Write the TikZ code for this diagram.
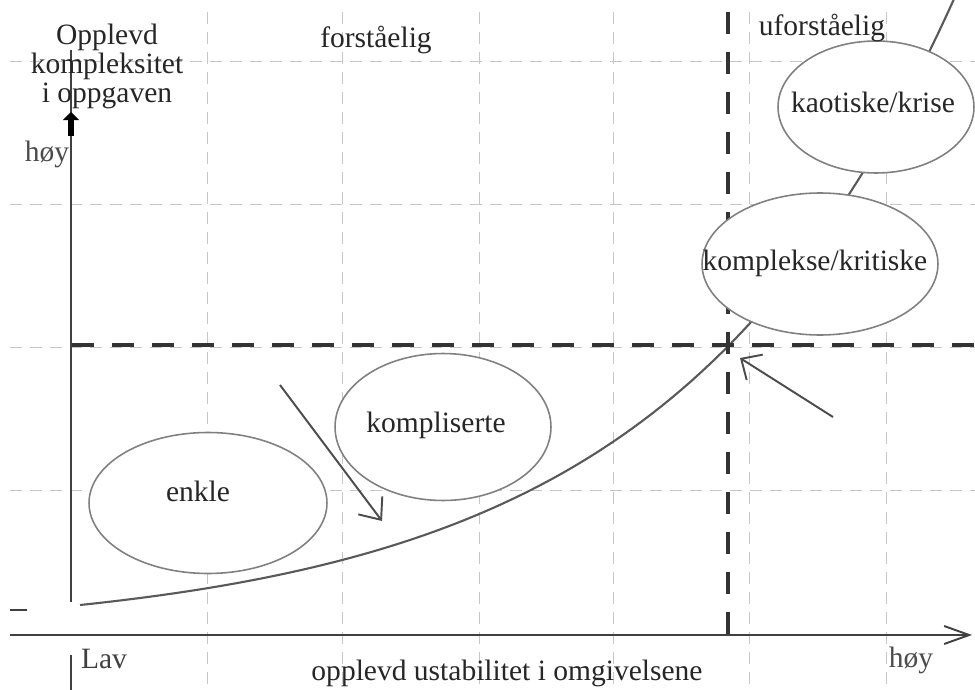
\documentclass[tikz,border=0pt]{standalone}
\usepackage{fontspec}
\setmainfont{Liberation Serif}
\usetikzlibrary{arrows.meta,shapes.geometric}

\tikzset{
  gridline/.style={gray!45, line width=0.5pt, dash pattern=on 0.24cm off 0.16cm},
  axisline/.style={black!75, line width=1.1pt},
  limitline/.style={black!80, line width=2.3pt, dash pattern=on 0.44cm off 0.36cm},
  growth/.style={black!65, line width=1.2pt},
  zone/.style={ellipse, draw=black!50, line width=0.9pt, fill=white, inner sep=0pt},
  txt/.style={text=black!85, inner sep=0pt, font=\fontsize{16.8}{16.5}\selectfont},
  pointer/.style={black!70, line width=1.1pt}
}

\begin{document}
\begin{tikzpicture}[x=0.02cm, y=-0.02cm]
            \useasboundingbox (0,0) rectangle (975,690);

            % grid
            \foreach \x in {207,342,479,613,749,886}
                \draw[gridline] (\x,12) -- (\x,690);
            \foreach \y in {61,204,347,490}
                \draw[gridline] (10,\y) -- (975,\y);

            % axes
            \coordinate (xstart) at (10,635);
            \coordinate (xend) at (972,635);
            \coordinate (ybot) at (71,602);
            \coordinate (ytop) at (71,50);
            \coordinate (yhead) at (71,112);
            \coordinate (ystem) at (71,136);
            \draw[axisline, -{Straight Barb[length=0.5cm,width=0.36cm]}] (xstart) -- (xend);
            \draw[axisline] (ybot) -- (ytop);
            \draw[black, line width=0.14cm, -{Triangle[length=0.16cm,width=0.32cm]}] (ystem) -- (yhead);

            % loose marks
            \coordinate (stub1) at (71,655);
            \coordinate (stub2) at (71,690);
            \coordinate (stub3) at (10,610);
            \coordinate (stub4) at (27,610);
            \draw[axisline] (stub1) -- (stub2);
            \draw[axisline] (stub3) -- (stub4);

            % curve
            \draw[growth] plot[domain=80:958, samples=90] (\x, {635-30*exp(0.0035*(\x-80))});

            % limits
            \coordinate (hl) at (72,345);
            \coordinate (hr) at (975,345);
            \coordinate (vt) at (728,12);
            \coordinate (vb) at (728,635);
            \draw[limitline] (hl) -- (hr);
            \draw[limitline] (vt) -- (vb);

            % zones
            \node[zone, minimum width=4.76cm, minimum height=2.82cm] (enkle) at (208,503) {};
            \node[zone, minimum width=4.32cm, minimum height=2.94cm] (kompliserte) at (443,427) {};
            \node[zone, minimum width=4.72cm, minimum height=2.84cm] (komplekse) at (820,264) {};
            \node[zone, minimum width=3.92cm, minimum height=2.64cm] (kaotiske) at (876,107) {};

            \node[txt, anchor=base] (enkletxt) at (198,501) {enkle};
            \node[txt, anchor=base] (komplisertetxt) at (436,432) {kompliserte};
            \node[txt, anchor=base] (kompleksetxt) at (815,270) {komplekse/kritiske};
            \node[txt, anchor=base] (kaotisketxt) at (873,112) {kaotiske/krise};

            % pointers
            \coordinate (p1from) at (280,385);
            \coordinate (p1to) at (382,521);
            \coordinate (p2from) at (833,417);
            \coordinate (p2to) at (740,358);
            \draw[pointer, -{Straight Barb[length=0.36cm,width=0.6cm]}] (p1from) -- (p1to);
            \draw[pointer, -{Straight Barb[length=0.32cm,width=0.6cm]}] (p2from) -- (p2to);

            % labels
            \node[txt, align=center] (ylabel) at (107,66) {Opplevd\\kompleksitet\\i oppgaven};
            \node[txt, anchor=base, text=black!70] (yhigh) at (47,161) {høy};
            \node[txt, anchor=base] (clear) at (376,47) {forståelig};
            \node[txt, anchor=base] (unclear) at (822,35) {uforståelig};
            \node[txt, anchor=base, text=black!75] (xlow) at (104,668) {Lav};
            \node[txt, anchor=base] (xlabel) at (507,680) {opplevd ustabilitet i omgivelsene};
            \node[txt, anchor=base, text=black!70] (xhigh) at (911,667) {høy};

        \end{tikzpicture}
\end{document}
